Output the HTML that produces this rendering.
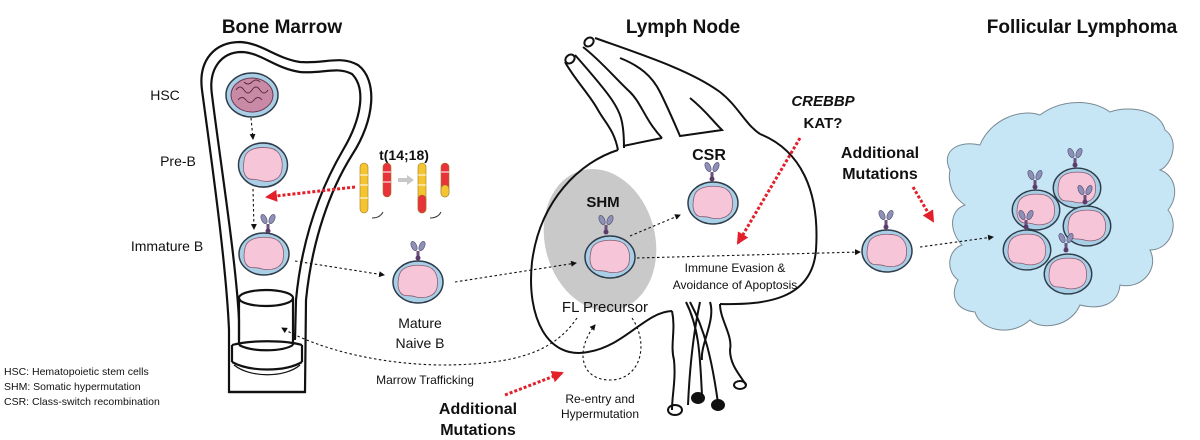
<!DOCTYPE html>
<html><head><meta charset="utf-8"><style>
html,body{margin:0;padding:0;background:#fff;}
svg{display:block;}
text{font-family:"Liberation Sans",Arial,sans-serif;fill:#111;}
.b{font-weight:bold;}
</style></head><body>
<svg width="1200" height="440" viewBox="0 0 1200 440" xmlns="http://www.w3.org/2000/svg">
<defs>
<g id="cell">
<ellipse cx="0" cy="0" rx="25" ry="21" fill="#a9cfe6" stroke="#2f3d4a" stroke-width="1.5"/>
<path d="M-19,-6 C-17,-16 -4,-18 8,-16 C18,-14 21,-4 19,6 C17,14 8,17 -2,15 C-10,12 -14,16 -18,10 C-21,5 -20,-1 -19,-6Z" fill="#f6c5d8" stroke="#8a5b70" stroke-width="0.8"/>
</g>
<g id="ab">
<rect x="-1.5" y="-10" width="3" height="9" fill="#6b4f7a"/>
<ellipse cx="-4" cy="-15" rx="2.6" ry="5" transform="rotate(-25 -4 -15)" fill="#8f90b8" stroke="#4b4a6a" stroke-width="0.6"/>
<ellipse cx="4" cy="-15" rx="2.6" ry="5" transform="rotate(25 4 -15)" fill="#8f90b8" stroke="#4b4a6a" stroke-width="0.6"/>
<circle cx="0" cy="-3" r="2.5" fill="#5b3b6a"/>
</g>
<marker id="ah" markerWidth="6" markerHeight="6" refX="5" refY="3" orient="auto" markerUnits="userSpaceOnUse"><path d="M0,0 L6,3 L0,6Z" fill="#111"/></marker>
<marker id="rh" markerWidth="12" markerHeight="12" refX="10" refY="6" orient="auto" markerUnits="userSpaceOnUse"><path d="M0,0 L12,6 L0,12Z" fill="#e3202a"/></marker>
</defs>

<!-- titles -->
<text x="282" y="33" font-size="19" class="b" text-anchor="middle">Bone Marrow</text>
<text x="683" y="33" font-size="19" class="b" text-anchor="middle">Lymph Node</text>
<text x="1082" y="33" font-size="19" class="b" text-anchor="middle">Follicular Lymphoma</text>

<!-- bone -->
<g fill="none" stroke="#111" stroke-width="2.2">
<path d="M229,392 L229,330 C226,260 210,150 202,90 C198,60 215,42 240,42 C262,43 275,58 300,62 C325,64 340,55 358,65 C378,80 375,120 352,155 C330,190 312,240 306,300 L305,392 Z"/>
<path d="M239,340 L239,320 C236,260 220,160 212,95 C208,68 222,52 242,52 C262,53 274,68 300,72 C322,74 337,66 352,74 C366,88 362,118 343,150 C322,186 302,236 296,300 L295,340" />
<ellipse cx="266" cy="298" rx="27" ry="8" fill="#fff"/>
<path d="M239,298 L239,345 M293,298 L293,345"/>
<path d="M232,345 C250,340 285,340 302,345 M232,345 L232,362 M302,345 L302,362"/>
<path d="M239,345 C252,352 282,352 293,345"/>
<path d="M232,362 C250,372 285,372 302,362"/>
<path d="M234,365 C250,378 285,378 300,365" stroke-width="1.2"/>
<path d="M229,392 L305,392" />
</g>

<!-- bone cells -->
<ellipse cx="252" cy="95" rx="26" ry="22" fill="#a9cfe6" stroke="#2f3d4a" stroke-width="1.5"/>
<ellipse cx="252" cy="95" rx="21" ry="17" fill="#c98aa5" stroke="#6b3a52" stroke-width="1"/>
<path d="M236,90 q4,-6 8,0 q4,6 8,0 q4,-6 8,0 q4,6 8,0 M238,100 q4,-5 8,0 q4,5 8,0 q4,-5 8,0 M244,82 q4,4 8,0 q4,-4 8,0" fill="none" stroke="#5a2a40" stroke-width="0.9"/>
<use href="#cell" transform="translate(263,165) scale(0.98,1.05)"/>
<use href="#cell" transform="translate(264,254)"/>
<use href="#ab" transform="translate(268,234)"/>
<use href="#cell" transform="translate(418,282)"/>
<use href="#ab" transform="translate(418,261)"/>

<text x="165" y="100" font-size="14" text-anchor="middle">HSC</text>
<text x="178" y="166" font-size="14" text-anchor="middle">Pre-B</text>
<text x="167" y="251" font-size="14" text-anchor="middle">Immature B</text>
<text x="420" y="328" font-size="14" text-anchor="middle">Mature</text>
<text x="420" y="348" font-size="14" text-anchor="middle">Naive B</text>

<!-- t(14;18) -->
<text x="404" y="160" font-size="14" class="b" text-anchor="middle">t(14;18)</text>
<g stroke="#9a7a2a" stroke-width="0.6">
<rect x="360" y="163" width="8" height="50" rx="4" fill="#f5c431"/>
<rect x="383" y="163" width="8" height="34" rx="4" fill="#e8333b"/>
<rect x="418" y="163" width="8" height="50" rx="4" fill="#f5c431"/>
<rect x="418" y="195" width="8" height="18" rx="4" fill="#e8333b"/>
<rect x="441" y="163" width="8" height="34" rx="4" fill="#e8333b"/>
<rect x="441" y="185" width="8" height="12" rx="4" fill="#f5c431"/>
</g>
<g stroke="#fff" stroke-width="1"><path d="M360,175h8M360,185h8M360,198h8M383,172h8M383,182h8M418,175h8M418,185h8M441,172h8"/></g>
<path d="M398,180 L408,180" stroke="#c8c8c8" stroke-width="4"/><path d="M407,175 L414,180 L407,185Z" fill="#c8c8c8"/>
<path d="M372,218 q8,0 11,-6 M430,218 q8,0 11,-6" fill="none" stroke="#333" stroke-width="1"/>

<!-- lymph node -->
<ellipse cx="600" cy="240" rx="55" ry="72" transform="rotate(-15 600 240)" fill="#c9c9c9"/>
<g fill="none" stroke="#111" stroke-width="2">
<path d="M618,150 C580,162 540,200 532,262 C526,318 548,360 588,352 C625,346 645,312 672,311"/>
<path d="M720,304 C765,305 812,300 816,250 C820,190 800,150 760,134"/>
<!-- top vessels -->
<path d="M565,62 C575,80 590,95 598,110 C606,124 614,130 618,150"/>
<path d="M575,55 C590,72 604,88 612,100 C620,112 624,120 624,148"/>
<path d="M623,146 L662,138"/>
<path d="M583,47 C600,60 615,78 630,92 C642,104 645,120 662,138"/>
<path d="M620,58 C640,66 652,76 660,92 C668,108 674,122 680,136 L722,130 C712,120 705,110 690,98"/>
<path d="M595,38 C640,54 690,70 720,92 C738,106 745,124 760,134"/>
<ellipse cx="570" cy="59" rx="5" ry="4" transform="rotate(-40 570 59)"/>
<ellipse cx="589" cy="42" rx="5" ry="4" transform="rotate(-40 589 42)"/>
<!-- bottom vessels -->
<path d="M672,311 C676,330 670,345 674,360 C676,380 672,395 672,410"/>
<path d="M686,302 C700,330 700,360 702,395 M690,302 C705,330 712,360 718,403 M700,302 C694,330 690,360 688,405 M710,302 C716,320 700,345 702,360"/>
<path d="M720,304 C720,320 733,335 730,350 C730,365 740,375 746,385"/>
<ellipse cx="675" cy="410" rx="7" ry="5"/>
<ellipse cx="698" cy="398" rx="6" ry="5" fill="#111"/>
<ellipse cx="718" cy="405" rx="6" ry="5" fill="#111"/>
<ellipse cx="740" cy="385" rx="6" ry="4"/>
</g>
<use href="#cell" transform="translate(610,257)"/>
<use href="#ab" transform="translate(606,235)"/>
<use href="#cell" transform="translate(713,203)"/>
<use href="#ab" transform="translate(712,182)"/>
<use href="#cell" transform="translate(887,251)"/>
<use href="#ab" transform="translate(886,230)"/>

<text x="603" y="207" font-size="15" class="b" text-anchor="middle">SHM</text>
<text x="709" y="160" font-size="16" class="b" text-anchor="middle">CSR</text>
<text x="823" y="106" font-size="15" class="b" font-style="italic" text-anchor="middle">CREBBP</text>
<text x="823" y="128" font-size="15" class="b" text-anchor="middle">KAT?</text>
<text x="735" y="272" font-size="12" text-anchor="middle">Immune Evasion &amp;</text>
<text x="735" y="289" font-size="12" text-anchor="middle">Avoidance of Apoptosis</text>
<text x="605" y="312" font-size="15" text-anchor="middle">FL Precursor</text>
<text x="600" y="403" font-size="12" text-anchor="middle">Re-entry and</text>
<text x="600" y="418" font-size="12" text-anchor="middle">Hypermutation</text>
<text x="425" y="384" font-size="12" text-anchor="middle">Marrow Trafficking</text>
<text x="478" y="414" font-size="16" class="b" text-anchor="middle">Additional</text>
<text x="478" y="435" font-size="16" class="b" text-anchor="middle">Mutations</text>
<text x="880" y="158" font-size="16" class="b" text-anchor="middle">Additional</text>
<text x="880" y="179" font-size="16" class="b" text-anchor="middle">Mutations</text>

<!-- blob -->
<path d="M950,170 C940,150 960,140 980,145 C990,120 1020,108 1040,115 C1060,100 1090,98 1110,112 C1130,105 1160,110 1165,130 C1180,140 1172,165 1160,170 C1175,175 1180,195 1168,210 C1180,225 1170,250 1150,250 C1160,270 1140,290 1120,285 C1118,305 1100,310 1080,305 C1070,328 1040,330 1030,320 C1010,338 980,330 975,312 C955,310 950,295 958,280 C945,270 948,250 962,245 C948,230 950,210 965,205 C950,195 948,180 950,170Z" fill="#c6e6f6" stroke="#7a8a94" stroke-width="1"/>
<use href="#cell" transform="translate(1077,188) scale(0.95)"/>
<use href="#ab" transform="translate(1075,168)"/>
<use href="#cell" transform="translate(1036,210) scale(0.95)"/>
<use href="#ab" transform="translate(1035,190)"/>
<use href="#cell" transform="translate(1087,226) scale(0.95)"/>
<use href="#ab" transform="translate(1085,205)"/>
<use href="#cell" transform="translate(1027,250) scale(0.95)"/>
<use href="#ab" transform="translate(1026,230)"/>
<use href="#cell" transform="translate(1068,274) scale(0.95)"/>
<use href="#ab" transform="translate(1066,253)"/>

<!-- black dotted arrows -->
<g fill="none" stroke="#111" stroke-width="1.1" stroke-dasharray="2.5,2.5" marker-end="url(#ah)">
<path d="M251,118 L253,139"/>
<path d="M253,189 L254,229"/>
<path d="M295,261 L384,275"/>
<path d="M455,282 L576,263"/>
<path d="M630,236 L680,215"/>
<path d="M637,258 L860,252"/>
<path d="M920,247 L993,237"/>
<path d="M577,318 C555,350 520,365 440,365 C380,364 320,350 282,328"/>
<path d="M632,318 C650,345 640,380 610,380 C580,380 575,350 595,325"/>
</g>

<!-- red dotted arrows -->
<g fill="none" stroke="#e3202a" stroke-width="3" stroke-dasharray="3,2" marker-end="url(#rh)">
<path d="M355,187 L267,197"/>
<path d="M800,138 L738,243"/>
<path d="M913,187 L933,221"/>
<path d="M505,395 L562,373"/>
</g>

<!-- legend -->
<text x="4" y="375" font-size="10.5">HSC: Hematopoietic stem cells</text>
<text x="4" y="390" font-size="10.5">SHM: Somatic hypermutation</text>
<text x="4" y="405" font-size="10.5">CSR: Class-switch recombination</text>
</svg>
</body></html>
